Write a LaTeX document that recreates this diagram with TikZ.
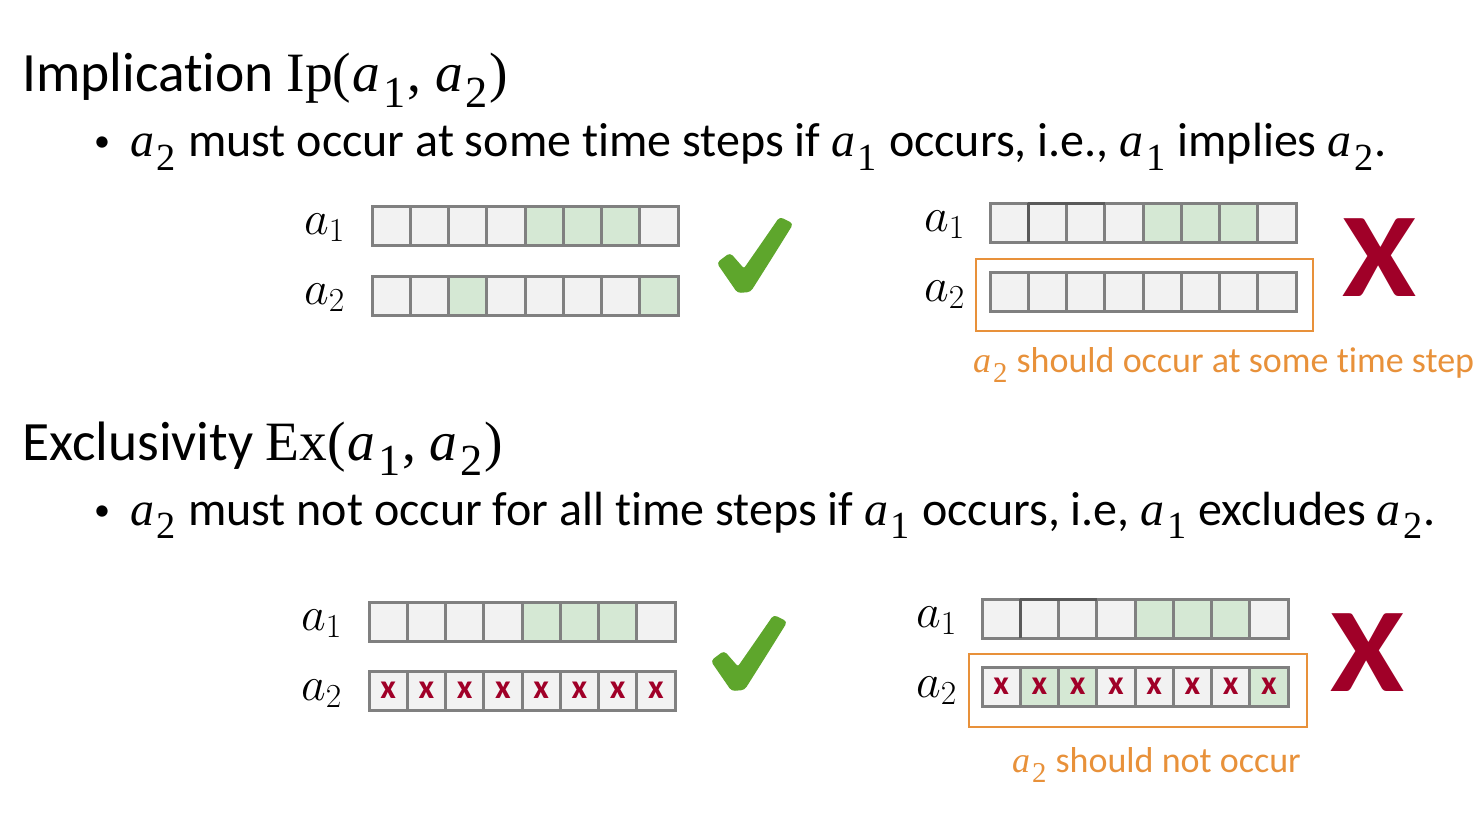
\RequirePackage{fix-cm}
\documentclass[tikz,border=0pt]{standalone}
\usepackage[no-math]{fontspec}
\setmainfont{Carlito}[Ligatures=NoCommon]
\newfontfamily\cmathfont{Liberation Serif}
% slide-style math: italic a with lowered upright subscript
\newcommand\av[1]{{\cmathfont\itshape a}\kern0.05em\raisebox{-0.28em}{\scalebox{0.8}{\cmathfont #1}}\kern0.03em\relax}
\newcommand\pargs{{\cmathfont(}\kern0.03em\relax\av{1}{\cmathfont,}\kern0.25em\relax\av{2}{\cmathfont)}}
\definecolor{cellgray}{HTML}{F2F2F2}
\definecolor{cellgreen}{HTML}{D5E8D4}
\definecolor{cellborder}{HTML}{808080}
\definecolor{celldark}{HTML}{5A5A5A}
\definecolor{orng}{HTML}{E8913A}
\definecolor{darkred}{HTML}{A00028}
\definecolor{okgreen}{HTML}{5EA62C}
\tikzset{
  cell/.style={draw=cellborder, line width=3pt, minimum width=38.25pt, minimum height=39pt, inner sep=0pt, outer sep=0pt, anchor=center, text=darkred, font=\fontsize{34}{34}\selectfont\bfseries},
  title/.style={anchor=base west, inner sep=0pt, font=\fontsize{55.5}{60}\selectfont},
  bullet/.style={anchor=base west, inner sep=0pt, font=\fontsize{48}{50}\selectfont},
  bulletdot/.style={anchor=base west, inner sep=0pt, font=\fontsize{32}{36}\selectfont},
  rowlabel/.style={anchor=base east, inner sep=0pt, font=\fontsize{48}{50}\selectfont},
  note/.style={anchor=base west, inner sep=0pt, text=orng, font=\fontsize{36}{40}\selectfont},
  obox/.style={draw=orng, line width=2.5pt},
  bigx/.style={text=darkred, inner sep=0pt, font=\fontsize{120}{120}\selectfont\bfseries},
  checkmark/.style={fill=okgreen, draw=okgreen, line width=2pt, rounded corners=3pt}
}
% #1 name, #2 left x, #3 centre y, #4 fills, #5 content
\newcommand\cellrow[5]{%
  \foreach \f [count=\i] in {#4} {%
    \node[cell, fill=\f] (#1-\i) at ({#2+(\i-0.5)*38.25}, #3) {#5};
  }%
}
\newcommand\checkat[2]{%
  \begin{scope}[shift={(#1,#2)}]
    \filldraw[checkmark] (0,48) -- (12,39) -- (26,55) .. controls (42,32) .. (62,3)
      -- (74,9) .. controls (56,38) .. (32,76) -- (20,77) -- cycle;
  \end{scope}%
}
\begin{document}
\begin{tikzpicture}[x=1pt, y=-1pt]
\useasboundingbox[fill=white] (0,0) rectangle (1483,840);

% ---------- Implication ----------
\node[title] (t1) at (22,92) {Implication {\cmathfont Ip}\pargs};
\node[bulletdot] (b1dot) at (94,152) {•};
\node[bullet] (b1) at (130,157) {\av{2} must occur at some time steps if \av{1} occurs, i.e., \av{1} implies \av{2}.};

% left example
\node[rowlabel] (l1a) at (345,234) {$a_1$};
\node[rowlabel] (l1b) at (345,304) {$a_2$};
\cellrow{ta}{372}{226}{cellgray,cellgray,cellgray,cellgray,cellgreen,cellgreen,cellgreen,cellgray}{}
\cellrow{tb}{372}{295.5}{cellgray,cellgray,cellgreen,cellgray,cellgray,cellgray,cellgray,cellgreen}{}
\checkat{718}{215}

% right example
\node[rowlabel] (r1a) at (965,231) {$a_1$};
\node[rowlabel] (r1b) at (965,301) {$a_2$};
\cellrow{ra}{990}{222.5}{cellgray,cellgray,cellgray,cellgray,cellgreen,cellgreen,cellgreen,cellgray}{}
\cellrow{rb}{990}{291.5}{cellgray,cellgray,cellgray,cellgray,cellgray,cellgray,cellgray,cellgray}{}
\draw[celldark, line width=3pt] (ra-2.north west) -- (ra-3.north east);
\draw[celldark, line width=3pt] (ra-2.north west) -- (ra-2.south west);
\draw[obox] (976,259) rectangle (1313,331);
\node[bigx] (x1) at (1379,258) {\scalebox{1.12}[1]{X}};
\node[note] (n1) at (973,372) {\av{2} should occur at some time step};

% ---------- Exclusivity ----------
\node[title] (t2) at (22,460) {Exclusivity {\cmathfont Ex}\pargs};
\node[bulletdot] (b2dot) at (94,520) {•};
\node[bullet] (b2) at (130,525) {\av{2} must not occur for all time steps if \av{1} occurs, i.e, \av{1} excludes \av{2}.};

% left example
\node[rowlabel] (l2a) at (342,630) {$a_1$};
\node[rowlabel] (l2b) at (342,700) {$a_2$};
\cellrow{ea}{369}{621.5}{cellgray,cellgray,cellgray,cellgray,cellgreen,cellgreen,cellgreen,cellgray}{}
\cellrow{eb}{369}{690.5}{cellgray,cellgray,cellgray,cellgray,cellgray,cellgray,cellgray,cellgray}{x}
\checkat{712}{613}

% right example
\node[rowlabel] (r2a) at (957,627) {$a_1$};
\node[rowlabel] (r2b) at (957,697) {$a_2$};
\cellrow{fa}{982}{618.5}{cellgray,cellgray,cellgray,cellgray,cellgreen,cellgreen,cellgreen,cellgray}{}
\cellrow{fb}{982}{686.5}{cellgray,cellgreen,cellgreen,cellgray,cellgray,cellgray,cellgray,cellgreen}{x}
\draw[celldark, line width=3pt] (fa-2.north west) -- (fa-3.north east);
\draw[celldark, line width=3pt] (fa-2.north west) -- (fa-2.south west);
\draw[obox] (969,654) rectangle (1307,727);
\node[bigx] (x2) at (1367,653) {\scalebox{1.12}[1]{X}};
\node[note] (n2) at (1012,772) {\av{2} should not occur};
\end{tikzpicture}
\end{document}
